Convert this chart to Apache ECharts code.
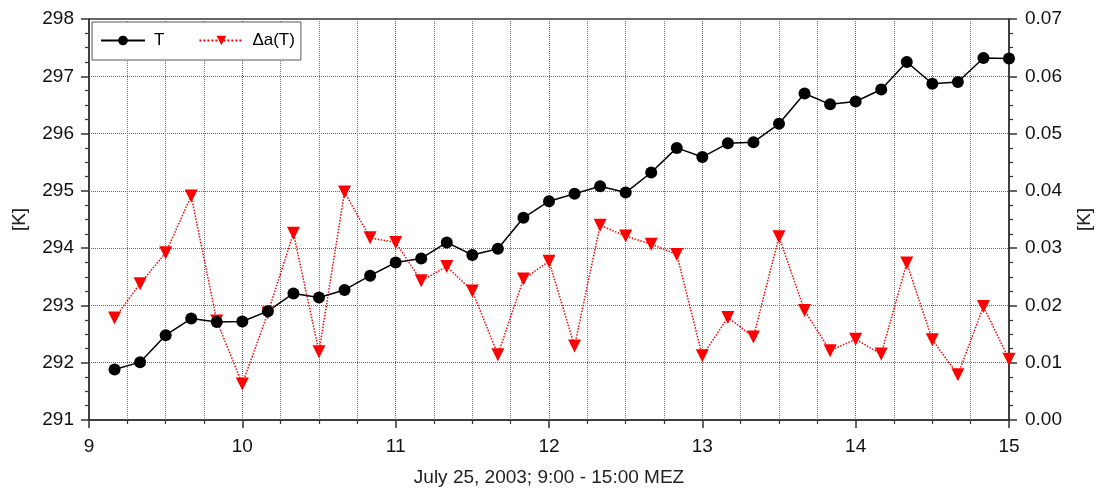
<!DOCTYPE html>
<html>
<head>
<meta charset="utf-8">
<script src="https://cdn.jsdelivr.net/npm/echarts@6/dist/echarts.min.js"></script>
<style>html,body{margin:0;padding:0;background:#fff}#c{width:1097px;height:491px}</style>
</head>
<body>
<div id="c"></div>
<script>
const times = ['9:10','9:20','9:30','9:40','9:50','10:00','10:10','10:20','10:30','10:40','10:50','11:00',
  '11:10','11:20','11:30','11:40','11:50','12:00','12:10','12:20','12:30','12:40','12:50','13:00',
  '13:10','13:20','13:30','13:40','13:50','14:00','14:10','14:20','14:30','14:40','14:50','15:00'];
const T = [291.88,292.01,292.48,292.77,292.71,292.72,292.90,293.21,293.14,293.27,293.52,293.75,
  293.82,294.10,293.88,293.99,294.53,294.82,294.95,295.08,294.97,295.32,295.75,295.59,
  295.83,295.85,296.17,296.70,296.51,296.56,296.77,297.25,296.87,296.90,297.32,297.31];
const dA = [0.0178,0.0238,0.0292,0.0391,0.0173,0.0063,0.0187,0.0326,0.0119,0.0398,0.0318,0.0310,
  0.0243,0.0268,0.0225,0.0114,0.0246,0.0277,0.0129,0.0340,0.0321,0.0307,0.0289,0.0112,
  0.0179,0.0145,0.0320,0.0191,0.0121,0.0141,0.0115,0.0274,0.0140,0.0079,0.0198,0.0106];
const xTicks = [9,10,11,12,13,14,15];
const xName = 'July 25, 2003; 9:00 - 15:00 MEZ';
const yName = '[K]';

function toHours(s){const p=s.split(':');return +p[0] + (+p[1])/60;}
const hrs = times.map(toHours);

const font = 'Liberation Sans, Arial, sans-serif';
const axisCol = '#333';
const gridLine = {show:true, lineStyle:{color:'#666', type:'dotted', width:1}};
const chart = echarts.init(document.getElementById('c'));
chart.setOption({
  animation:false,
  textStyle:{fontFamily:font},
  grid:{left:89, right:88, top:19, bottom:71, show:true, borderColor:axisCol, borderWidth:1.5,
        outerBoundsMode:'none', containLabel:false},
  legend:{
    left:92, top:22, padding:[10,6,11,8], itemGap:34, itemWidth:44, itemHeight:12,
    borderColor:'#555', borderWidth:1, backgroundColor:'#fff',
    textStyle:{fontSize:17, color:'#000', fontFamily:font, padding:[0,0,0,4]},
    data:['T','\u0394a(T)']
  },
  xAxis:{
    type:'value', min:xTicks[0], max:xTicks[xTicks.length-1], interval:1,
    name:xName, nameLocation:'middle', nameGap:48,
    nameTextStyle:{fontSize:19, color:'#222', fontFamily:font},
    axisLine:{lineStyle:{color:axisCol, width:1.5}},
    axisTick:{show:true, length:8, lineStyle:{color:axisCol, width:1.5}},
    minorTick:{show:true, splitNumber:4, length:4, lineStyle:{color:axisCol, width:1.2}},
    splitLine:gridLine,
    minorSplitLine:{show:true, lineStyle:{color:'#777', type:'dotted', width:1}},
    axisLabel:{fontSize:19, color:'#111', margin:17, fontFamily:font}
  },
  yAxis:[{
    type:'value', min:291, max:298, interval:1, position:'left',
    name:yName, nameLocation:'middle', nameGap:60, nameRotate:90,
    nameTextStyle:{fontSize:19, color:'#222', fontFamily:font},
    axisLine:{show:true, lineStyle:{color:axisCol, width:1.5}},
    axisTick:{show:true, length:8, lineStyle:{color:axisCol, width:1.5}},
    minorTick:{show:true, splitNumber:4, length:4, lineStyle:{color:axisCol, width:1.2}},
    splitLine:gridLine,
    axisLabel:{fontSize:19, color:'#111', margin:15, fontFamily:font}
  },{
    type:'value', min:0, max:0.07, interval:0.01, position:'right',
    name:yName, nameLocation:'middle', nameGap:66, nameRotate:90,
    nameTextStyle:{fontSize:19, color:'#222', fontFamily:font},
    axisLine:{show:true, lineStyle:{color:axisCol, width:1.5}},
    axisTick:{show:true, length:8, lineStyle:{color:axisCol, width:1.5}},
    minorTick:{show:true, splitNumber:4, length:4, lineStyle:{color:axisCol, width:1.2}},
    splitLine:{show:false},
    axisLabel:{fontSize:19, color:'#111', margin:16, fontFamily:font, formatter:v=>v.toFixed(2)}
  }],
  series:[{
    name:'\u0394a(T)', type:'line', yAxisIndex:1,
    data:hrs.map((h,i)=>[h,dA[i]]),
    symbol:'triangle', symbolRotate:180, symbolSize:13, showSymbol:true,
    itemStyle:{color:'#ff0000'},
    lineStyle:{color:'#ff0000', width:1.5, type:'dotted'}
  },{
    name:'T', type:'line', yAxisIndex:0,
    data:hrs.map((h,i)=>[h,T[i]]),
    symbol:'circle', symbolSize:12, showSymbol:true,
    itemStyle:{color:'#000'},
    lineStyle:{color:'#000', width:1.5}
  }]
});
</script>
</body>
</html>
